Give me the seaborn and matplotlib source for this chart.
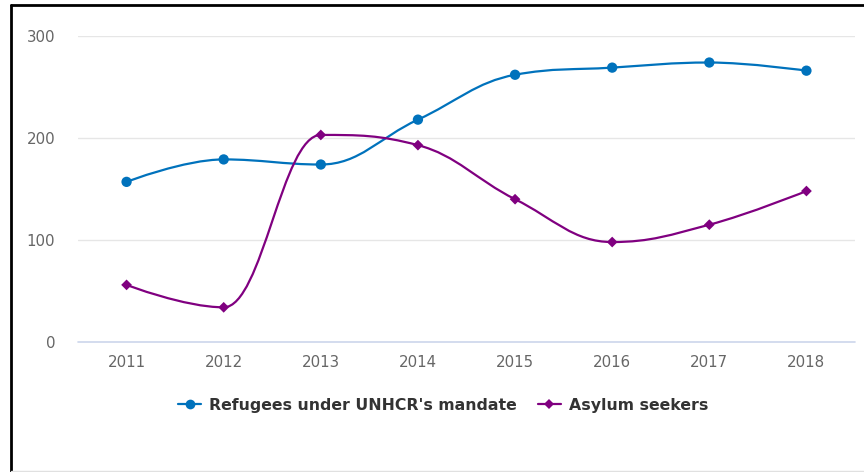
import numpy as np
import pandas as pd
import matplotlib
matplotlib.use("Agg")
import matplotlib.pyplot as plt
from matplotlib.path import Path
from matplotlib.patches import PathPatch
from matplotlib.lines import Line2D
import seaborn as sns

years = [2011, 2012, 2013, 2014, 2015, 2016, 2017, 2018]
refugees = [157, 179, 174, 218, 262, 269, 274, 266]
asylum_seekers = [56, 34, 203, 193, 140, 98, 115, 148]
series_names = ["Refugees under UNHCR's mandate", "Asylum seekers"]
series_colors = ["#0072BC", "#800080"]
series_markers = ["o", "D"]
y_ticks = [0, 100, 200, 300]


def spline_path(xs, ys, smoothing=1.5):
    """Cubic Bezier path through the points, Highcharts-style spline."""
    n = len(xs)
    denom = smoothing + 1
    lc = [None] * n
    rc = [None] * n
    for i in range(1, n - 1):
        px, py = xs[i], ys[i]
        lx, ly = xs[i - 1], ys[i - 1]
        nx, ny = xs[i + 1], ys[i + 1]
        lcx = (smoothing * px + lx) / denom
        lcy = (smoothing * py + ly) / denom
        rcx = (smoothing * px + nx) / denom
        rcy = (smoothing * py + ny) / denom
        if rcx != lcx:
            corr = (rcy - lcy) * (rcx - px) / (rcx - lcx) + py - rcy
            lcy += corr
            rcy += corr
        if lcy > ly and lcy > py:
            lcy = max(ly, py)
            rcy = 2 * py - lcy
        elif lcy < ly and lcy < py:
            lcy = min(ly, py)
            rcy = 2 * py - lcy
        if rcy > ny and rcy > py:
            rcy = max(ny, py)
            lcy = 2 * py - rcy
        elif rcy < ny and rcy < py:
            rcy = min(ny, py)
            lcy = 2 * py - rcy
        lc[i] = (lcx, lcy)
        rc[i] = (rcx, rcy)
    verts = [(xs[0], ys[0])]
    codes = [Path.MOVETO]
    for i in range(1, n):
        c1 = rc[i - 1] if rc[i - 1] is not None else (xs[i - 1], ys[i - 1])
        c2 = lc[i] if lc[i] is not None else (xs[i], ys[i])
        verts += [c1, c2, (xs[i], ys[i])]
        codes += [Path.CURVE4] * 3
    return Path(verts, codes)


sns.set_theme(style="white")
plt.rcParams["font.family"] = ["DejaVu Sans"]

df = pd.DataFrame({
    "year": years * 2,
    "value": refugees + asylum_seekers,
    "series": [series_names[0]] * len(years) + [series_names[1]] * len(years),
})

fig = plt.figure(figsize=(8.64, 4.72), dpi=100)
ax = fig.add_axes([78 / 864, 1 - 342 / 472, 777 / 864, 306 / 472])

for name, color in zip(series_names, series_colors):
    sub = df[df["series"] == name]
    path = spline_path(sub["year"].tolist(), sub["value"].tolist())
    ax.add_patch(PathPatch(path, facecolor="none", edgecolor=color, lw=1.6,
                           zorder=3, capstyle="round", joinstyle="round"))

sns.scatterplot(data=df, x="year", y="value", hue="series", style="series",
                palette=dict(zip(series_names, series_colors)),
                markers=dict(zip(series_names, series_markers)),
                size="series", sizes={series_names[0]: 55, series_names[1]: 30},
                edgecolor="none", linewidth=0, legend=False,
                ax=ax, zorder=4)

ax.set_xlim(2010.5, 2018.5)
ax.set_ylim(0, 300)
ax.set_xticks(years)
ax.set_xticklabels([str(y) for y in years])
ax.set_yticks(y_ticks)
ax.set_xlabel("")
ax.set_ylabel("")
for s in ["top", "right", "left", "bottom"]:
    ax.spines[s].set_visible(False)
ax.grid(False)
for t in y_ticks[1:]:
    ax.axhline(t, color="#e6e6e6", lw=1, zorder=1)
ax.axhline(0, color="#ccd6eb", lw=1.2, zorder=1, clip_on=False)
ax.tick_params(axis="both", length=0, labelsize=10.8, labelcolor="#666666")
ax.tick_params(axis="y", pad=16.5)
ax.tick_params(axis="x", pad=9.5)

handles = [Line2D([0], [0], color=c, lw=1.6, marker=m,
                  markersize=7 if m == "o" else 5, markeredgewidth=0)
           for c, m in zip(series_colors, series_markers)]
fig.legend(handles, series_names, loc="center", bbox_to_anchor=(0.513, 0.141),
           ncol=2, frameon=False, handlelength=1.47, handletextpad=0.5,
           columnspacing=1.34,
           prop={"weight": "bold", "size": 11.3})
for t in fig.legends[0].get_texts():
    t.set_color("#333333")

# outer frame
fig.add_artist(Line2D([11 / 864, 11 / 864], [0, 1 - 5 / 472], color="black", lw=2,
                      transform=fig.transFigure))
fig.add_artist(Line2D([11 / 864, 1], [1 - 5 / 472, 1 - 5 / 472], color="black", lw=2,
                      transform=fig.transFigure))
fig.add_artist(Line2D([11 / 864, 1], [1 / 472, 1 / 472], color="#e0e0e0", lw=1,
                      transform=fig.transFigure))

fig.savefig("out.png", dpi=100, facecolor="white")
